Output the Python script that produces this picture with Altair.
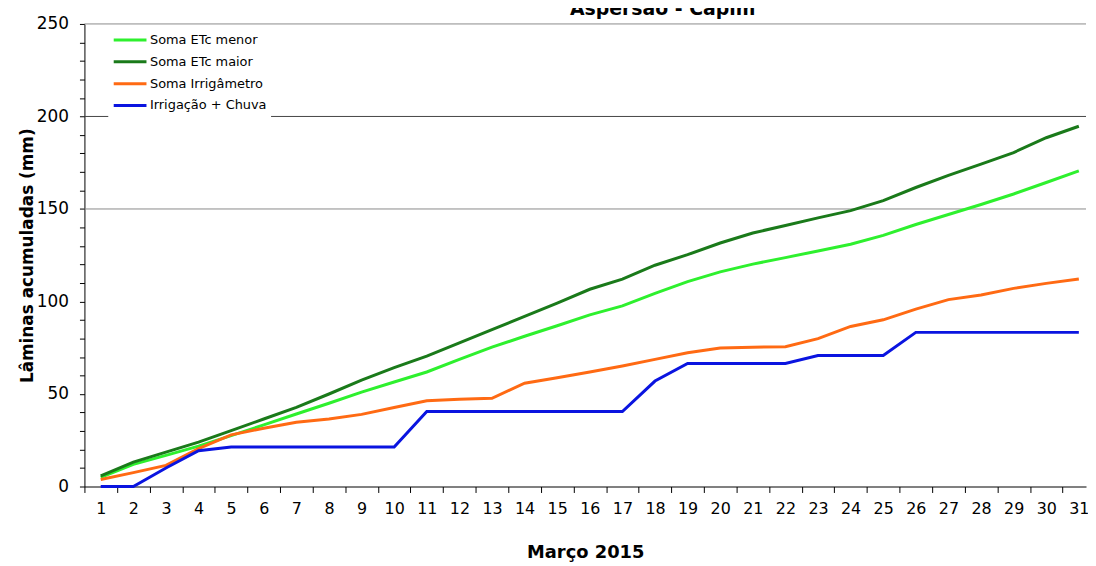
import altair as alt
import pandas as pd

days = list(range(1, 32))
etc_menor = [5.0, 12.0, 16.8, 21.8, 27.5, 33.3, 39.2, 45.0, 51.0, 56.5, 61.9, 68.7, 75.3, 81.2, 86.9,
             92.8, 97.6, 104.4, 110.7, 116.0, 120.2, 123.7, 127.3, 130.9, 135.7, 141.6, 147.0, 152.4,
             158.1, 164.3, 170.6]
etc_maior = [5.7, 13.2, 18.6, 24.0, 30.2, 36.5, 42.8, 50.0, 57.5, 64.2, 70.5, 77.6, 84.8, 91.9, 99.1,
             106.6, 112.1, 119.6, 125.3, 131.6, 137.0, 141.1, 145.2, 149.1, 154.5, 161.6, 168.2, 174.2,
             180.5, 188.5, 194.7]
irrigametro = [3.8, 7.5, 11.4, 20.5, 27.9, 31.5, 34.7, 36.5, 39.0, 42.7, 46.3, 47.2, 47.7, 55.8, 58.8,
               61.9, 65.1, 68.7, 72.3, 74.9, 75.3, 75.5, 79.9, 86.5, 90.1, 95.9, 101.0, 103.5, 107.1,
               109.8, 112.1]
irrig_chuva = [0, 0, 10.0, 19.3, 21.3, 21.3, 21.3, 21.3, 21.3, 21.3, 40.5, 40.5, 40.5, 40.5, 40.5,
               40.5, 40.5, 57.0, 66.5, 66.5, 66.5, 66.5, 70.8, 70.8, 70.8, 83.3, 83.3, 83.3, 83.3,
               83.3, 83.3]

series_names = ["Soma ETc menor", "Soma ETc maior", "Soma Irrigâmetro", "Irrigação + Chuva"]
series_colors = ["#2ef02e", "#1a7a1a", "#ff6a13", "#0a14e0"]
grid_values = [150, 200, 250]
grid_colors = ["#8a8a8a", "#444444", "#8a8a8a"]
y_ticks = list(range(0, 251, 10))

rows = []
for name, vals in zip(series_names, [etc_menor, etc_maior, irrigametro, irrig_chuva]):
    for d, v in zip(days, vals):
        rows.append({"dia": d, "valor": v, "serie": name})
df = pd.DataFrame(rows)
grid_df = pd.DataFrame({"v": grid_values, "c": grid_colors})

FONT = "DejaVu Sans"
yscale = alt.Scale(domain=[0, 250], nice=False, zero=True)
xscale = alt.Scale(domain=[0.5, 31.22], nice=False, zero=False)
step = 32.85

y_axis = alt.Axis(values=y_ticks,
                  labelExpr="datum.value % 50 == 0 ? datum.label : ''",
                  tickSize=5, labelPadding=11, labelFont=FONT, labelFontSize=17,
                  labelColor="#000", labelOverlap=False, labelFlush=False,
                  title="Lâminas acumuladas (mm)", titleFont=FONT, titleFontSize=17,
                  titleFontWeight="bold", titleColor="#000", titlePadding=0,
                  domainColor="#000", tickColor="#000", grid=False)

grid = alt.Chart(grid_df).mark_rule(strokeWidth=1).encode(
    y=alt.Y("v:Q", scale=yscale, axis=y_axis),
    stroke=alt.Stroke("c:N", scale=None),
)

lines = alt.Chart(df).mark_line(strokeWidth=3).encode(
    x=alt.X("dia:Q", scale=xscale,
            axis=alt.Axis(values=days, tickOffset=-step / 2, labelOffset=step / 2, tickSize=6,
                          labelPadding=8, labelFont=FONT, labelFontSize=16, labelColor="#000",
                          labelFlush=False, labelOverlap=False, labelBound=False,
                          title="Março 2015", titleFont=FONT, titleFontSize=18,
                          titleFontWeight="bold", titleColor="#000", titlePadding=28,
                          domainColor="#000", tickColor="#000", grid=False)),
    y=alt.Y("valor:Q", scale=yscale, axis=y_axis),
    color=alt.Color("serie:N", scale=alt.Scale(domain=series_names, range=series_colors),
                    legend=alt.Legend(title=None, orient="none", legendX=24, legendY=1.5,
                                      symbolType="stroke", symbolSize=1089, symbolStrokeWidth=3,
                                      labelFont=FONT, labelFontSize=13, labelColor="#000",
                                      fillColor="white", padding=4, labelOffset=2,
                                      clipHeight=21.3, rowPadding=0)),
)

chart = alt.layer(grid, lines).properties(
    width=1009, height=466,
    padding={"left": 77, "top": 14, "right": 2, "bottom": 76},
    autosize=alt.AutoSizeParams(type="none"),
    title=alt.TitleParams("Aspersão - Capim", font=FONT, fontSize=19, fontWeight="bold",
                          color="#000", anchor="middle", dx=78, dy=7, offset=3),
).configure_view(stroke=None)

chart.save("out.html", embed_options={"renderer": "svg", "actions": False})
